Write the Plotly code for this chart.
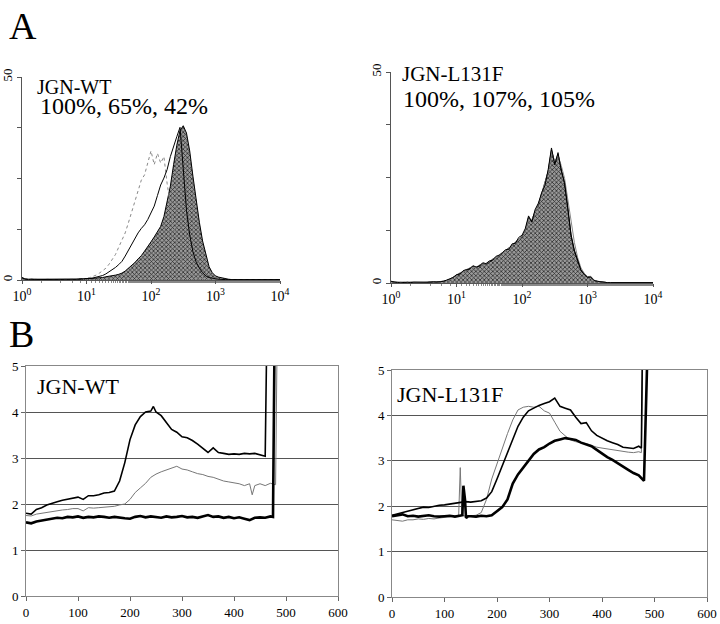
import plotly.graph_objects as go

# ---------------- Panel A: flow cytometry histograms ----------------
# bin centres in log10 units (channel positions, 0 .. 4 decades)
LOG_BINS = [round(0.05 * i, 2) for i in range(81)]
HIST_X = [10 ** v for v in LOG_BINS]

WT_100 = [0.6, 0.3, 0.2, 0.2, 0.1, 0.2, 0.1, 0.2, 0.1, 0.2,
          0.1, 0.2, 0.1, 0.2, 0.2, 0.1, 0.2, 0.2, 0.3, 0.3,
          0.3, 0.4, 0.4, 0.5, 0.5, 0.6, 0.8, 0.9, 1.0, 1.2,
          1.4, 1.7, 2.2, 2.9, 3.5, 4.3, 5.2, 6.0, 7.1, 8.4,
          9.4, 10.6, 11.9, 13.2, 15.6, 19.2, 23.1, 28.4, 33.2, 36.8,
          38.0, 36.2, 31.8, 25.6, 19.8, 14.2, 9.6, 6.4, 3.3, 1.8,
          1.0, 0.7, 0.5, 0.3, 0.2, 0.1, 0.1, 0.1, 0.1, 0.1,
          0.1, 0.1, 0.1, 0.1, 0.1, 0.1, 0.1, 0.1, 0.1, 0.1, 0.1]
WT_65 = [0.5, 0.2, 0.1, 0.2, 0.1, 0.1, 0.2, 0.1, 0.1, 0.2,
         0.1, 0.1, 0.2, 0.1, 0.1, 0.2, 0.1, 0.1, 0.2, 0.3,
         0.3, 0.4, 0.5, 0.7, 0.9, 1.1, 1.5, 2.0, 2.4, 3.1,
         3.8, 4.6, 5.9, 7.4, 8.6, 10.1, 11.6, 12.7, 13.6, 14.9,
         16.4, 18.2, 20.8, 23.4, 25.1, 27.2, 30.4, 33.1, 35.3, 37.6,
         27.4, 17.2, 11.1, 7.0, 4.4, 2.9, 1.8, 1.0, 0.6, 0.4,
         0.3, 0.2, 0.1, 0.1, 0.1, 0.1, 0.1, 0.1, 0.1, 0.1,
         0.1, 0.1, 0.1, 0.1, 0.1, 0.1, 0.1, 0.1, 0.1, 0.1, 0.1]
WT_42 = [0.3, 0.2, 0.1, 0.1, 0.2, 0.1, 0.1, 0.1, 0.2, 0.1,
         0.1, 0.1, 0.2, 0.1, 0.1, 0.2, 0.2, 0.2, 0.3, 0.3,
         0.4, 0.6, 0.9, 1.2, 1.7, 2.2, 2.9, 3.9, 5.1, 6.3,
         8.1, 9.7, 11.6, 14.1, 16.7, 19.2, 21.8, 24.6, 25.9, 29.2,
         31.8, 28.4, 31.2, 28.8, 30.4, 23.8, 18.1, 13.2, 9.1, 6.0,
         4.1, 2.6, 1.6, 1.0, 0.6, 0.4, 0.3, 0.2, 0.1, 0.1,
         0.1, 0.1, 0.1, 0.1, 0.1, 0.1, 0.1, 0.1, 0.1, 0.1,
         0.1, 0.1, 0.1, 0.1, 0.1, 0.1, 0.1, 0.1, 0.1, 0.1, 0.1]

LF_100 = [0.4, 0.2, 0.2, 0.1, 0.2, 0.1, 0.2, 0.2, 0.1, 0.2,
          0.2, 0.1, 0.3, 0.2, 0.3, 0.3, 0.4, 0.6, 0.9, 1.4,
          1.9, 2.3, 2.7, 3.0, 3.5, 3.9, 3.6, 4.2, 4.6, 4.4,
          5.0, 5.6, 6.0, 6.4, 7.0, 7.6, 8.2, 9.0, 9.6, 10.4,
          11.0, 12.5, 15.5, 14.8, 17.0, 18.5, 21.0, 23.5, 26.5, 31.5,
          28.5, 30.5, 27.0, 23.5, 17.5, 11.0, 7.5, 5.0, 3.0, 2.0,
          1.3, 1.5, 0.6, 0.4, 0.3, 0.1, 0.1, 0.1, 0.1, 0.1,
          0.1, 0.1, 0.1, 0.1, 0.1, 0.1, 0.1, 0.1, 0.1, 0.1, 0.1]
LF_107 = [0.4, 0.2, 0.1, 0.2, 0.1, 0.2, 0.1, 0.2, 0.2, 0.1,
          0.2, 0.2, 0.2, 0.3, 0.2, 0.3, 0.4, 0.7, 1.0, 1.3,
          2.0, 2.1, 2.9, 3.2, 3.3, 4.1, 3.8, 4.0, 4.8, 4.6,
          5.2, 5.4, 6.3, 6.6, 7.2, 7.9, 8.0, 9.3, 9.4, 10.8,
          11.3, 12.9, 15.9, 14.4, 17.4, 18.9, 21.4, 23.1, 26.9, 32.0,
          28.0, 30.9, 26.6, 23.8, 17.8, 11.4, 7.8, 5.2, 3.1, 2.1,
          1.4, 1.4, 0.6, 0.4, 0.3, 0.1, 0.1, 0.1, 0.1, 0.1,
          0.1, 0.1, 0.1, 0.1, 0.1, 0.1, 0.1, 0.1, 0.1, 0.1, 0.1]
LF_105 = [0.3, 0.2, 0.2, 0.1, 0.1, 0.2, 0.1, 0.1, 0.2, 0.2,
          0.1, 0.2, 0.3, 0.2, 0.2, 0.3, 0.4, 0.6, 0.8, 1.3,
          1.8, 2.4, 2.6, 3.1, 3.6, 3.7, 3.7, 4.3, 4.5, 4.5,
          5.1, 5.7, 5.9, 6.5, 7.1, 7.5, 8.3, 8.9, 9.8, 10.3,
          11.2, 12.4, 15.2, 15.0, 16.8, 18.7, 20.8, 23.8, 26.2, 31.2,
          28.8, 30.2, 27.8, 24.8, 20.0, 14.8, 9.6, 6.0, 3.6, 2.3,
          1.5, 1.6, 0.7, 0.4, 0.3, 0.1, 0.1, 0.1, 0.1, 0.1,
          0.1, 0.1, 0.1, 0.1, 0.1, 0.1, 0.1, 0.1, 0.1, 0.1, 0.1]

HIST_TICKS = [1, 10, 100, 1000, 10000]
HIST_TICKTEXT = ["10<sup>0</sup>", "10<sup>1</sup>", "10<sup>2</sup>",
                 "10<sup>3</sup>", "10<sup>4</sup>"]
HIST_YTICKS = [0, 12.5, 25, 37.5, 50]
HIST_YTEXT = ["0", "", "", "", "50"]

# ---------------- Panel B: time courses ----------------
WT_THICK_X = [0, 10, 20, 30, 40, 50, 60, 70, 80, 90, 100, 110, 120, 130, 140, 150,
              160, 170, 180, 190, 200, 210, 220, 230, 240, 250, 260, 270, 280, 290,
              300, 310, 320, 330, 340, 350, 360, 370, 380, 390, 400, 410, 420, 430,
              440, 450, 460, 470, 475, 478]
WT_THICK_Y = [1.60, 1.58, 1.62, 1.64, 1.66, 1.68, 1.70, 1.69, 1.72, 1.71, 1.73, 1.70,
              1.72, 1.71, 1.73, 1.72, 1.70, 1.72, 1.70, 1.69, 1.68, 1.72, 1.74, 1.71,
              1.73, 1.72, 1.70, 1.73, 1.71, 1.72, 1.74, 1.71, 1.72, 1.70, 1.73, 1.76,
              1.72, 1.73, 1.70, 1.72, 1.69, 1.71, 1.68, 1.65, 1.70, 1.71, 1.70, 1.73,
              1.72, 5.6]
WT_MED_X = [0, 10, 20, 30, 40, 50, 60, 70, 80, 90, 100, 110, 120, 130, 140, 150, 160,
            170, 180, 190, 200, 210, 220, 230, 240, 245, 250, 260, 270, 280, 290, 300,
            310, 320, 330, 340, 350, 360, 370, 380, 390, 400, 410, 420, 430, 440, 450,
            460, 463]
WT_MED_Y = [1.80, 1.78, 1.88, 1.92, 1.98, 2.02, 2.05, 2.08, 2.10, 2.12, 2.15, 2.10,
            2.18, 2.18, 2.20, 2.24, 2.25, 2.28, 2.50, 2.90, 3.40, 3.72, 3.90, 4.00,
            4.02, 4.12, 4.00, 3.92, 3.78, 3.62, 3.56, 3.46, 3.44, 3.38, 3.30, 3.20,
            3.12, 3.22, 3.12, 3.10, 3.08, 3.09, 3.08, 3.10, 3.09, 3.10, 3.07, 3.04, 5.6]
WT_GRAY_X = [0, 10, 20, 30, 40, 50, 60, 70, 80, 90, 100, 110, 120, 130, 140, 150, 160,
             170, 180, 190, 200, 210, 220, 230, 240, 250, 260, 270, 280, 290, 300, 310,
             320, 330, 340, 350, 360, 370, 380, 390, 400, 410, 420, 430, 435, 440, 450,
             460, 470, 480, 483]
WT_GRAY_Y = [1.75, 1.74, 1.78, 1.80, 1.82, 1.84, 1.85, 1.87, 1.88, 1.90, 1.90, 1.85,
             1.92, 1.91, 1.92, 1.93, 1.94, 1.95, 1.98, 2.00, 2.10, 2.25, 2.35, 2.45,
             2.58, 2.65, 2.70, 2.74, 2.78, 2.82, 2.76, 2.74, 2.70, 2.66, 2.64, 2.60,
             2.58, 2.54, 2.50, 2.48, 2.46, 2.44, 2.40, 2.44, 2.20, 2.40, 2.44, 2.40,
             2.45, 2.42, 5.6]

LF_THICK_X = [0, 10, 20, 30, 40, 50, 60, 70, 80, 90, 100, 110, 120, 130, 134, 136, 139,
              141, 145, 150, 160, 170, 180, 190, 200, 210, 220, 230, 240, 250, 260, 270,
              280, 290, 300, 310, 320, 330, 340, 350, 360, 370, 380, 390, 400, 410, 420,
              430, 440, 450, 460, 470, 480, 487]
LF_THICK_Y = [1.78, 1.80, 1.82, 1.78, 1.79, 1.77, 1.78, 1.80, 1.78, 1.77, 1.78, 1.79,
              1.77, 1.78, 1.80, 2.45, 2.15, 1.74, 1.78, 1.78, 1.77, 1.79, 1.78, 1.80,
              1.88, 1.98, 2.15, 2.50, 2.70, 2.85, 3.00, 3.15, 3.25, 3.30, 3.38, 3.44,
              3.47, 3.50, 3.48, 3.46, 3.40, 3.36, 3.32, 3.24, 3.16, 3.08, 3.02, 2.94,
              2.86, 2.80, 2.73, 2.68, 2.56, 5.6]
LF_MED_X = [0, 10, 20, 30, 40, 50, 60, 70, 80, 90, 100, 110, 120, 130, 140, 150, 160,
            170, 180, 190, 200, 210, 220, 230, 240, 250, 260, 270, 280, 290, 300, 310,
            320, 330, 340, 350, 360, 370, 380, 390, 400, 410, 420, 430, 440, 450, 460,
            470, 475, 477]
LF_MED_Y = [1.80, 1.83, 1.86, 1.88, 1.92, 1.95, 1.98, 1.97, 2.00, 2.02, 2.03, 2.05,
            2.06, 2.08, 2.10, 2.09, 2.10, 2.12, 2.18, 2.32, 2.60, 2.90, 3.20, 3.50,
            3.76, 3.96, 4.10, 4.16, 4.22, 4.26, 4.30, 4.38, 4.20, 4.16, 4.12, 3.96,
            3.82, 3.84, 3.66, 3.56, 3.50, 3.44, 3.40, 3.36, 3.30, 3.28, 3.27, 3.32,
            3.28, 5.6]
LF_GRAY_X = [0, 10, 20, 30, 40, 50, 60, 70, 80, 90, 100, 110, 120, 127, 130, 133, 140,
             150, 160, 170, 180, 190, 200, 210, 220, 230, 240, 250, 260, 270, 280, 290,
             300, 310, 320, 330, 340, 350, 360, 370, 380, 390, 400, 410, 420, 430, 440,
             450, 460, 470, 475, 478]
LF_GRAY_Y = [1.70, 1.68, 1.67, 1.70, 1.70, 1.72, 1.71, 1.73, 1.72, 1.74, 1.75, 1.76,
             1.78, 1.80, 2.85, 1.80, 1.78, 1.79, 1.80, 1.86, 2.15, 2.60, 2.95, 3.25,
             3.60, 3.90, 4.12, 4.18, 4.20, 4.18, 4.20, 4.10, 4.05, 3.85, 3.65, 3.55,
             3.46, 3.42, 3.40, 3.38, 3.34, 3.30, 3.28, 3.26, 3.24, 3.22, 3.20, 3.19,
             3.18, 3.20, 3.18, 5.6]

W, H = 720, 624
FONT = "Liberation Serif"


def px(x):
    return x / W


def py(y):
    return 1 - y / H


fig = go.Figure()

FILL_PATTERN = dict(shape="x", fgcolor="#202020", bgcolor="#9a9a9a", size=3, solidity=0.4)

# ---- top-left histogram ----
fig.add_trace(go.Scatter(x=HIST_X, y=WT_100, mode="lines", fill="tozeroy",
                         line=dict(color="black", width=1),
                         fillcolor="#808080", fillpattern=FILL_PATTERN,
                         xaxis="x", yaxis="y", showlegend=False))
fig.add_trace(go.Scatter(x=HIST_X, y=WT_42, mode="lines",
                         line=dict(color="#888888", width=1, dash="dot"),
                         xaxis="x", yaxis="y", showlegend=False))
fig.add_trace(go.Scatter(x=HIST_X, y=WT_65, mode="lines",
                         line=dict(color="black", width=1),
                         xaxis="x", yaxis="y", showlegend=False))

# ---- top-right histogram ----
fig.add_trace(go.Scatter(x=HIST_X, y=LF_100, mode="lines", fill="tozeroy",
                         line=dict(color="black", width=1),
                         fillcolor="#808080", fillpattern=FILL_PATTERN,
                         xaxis="x2", yaxis="y2", showlegend=False))
fig.add_trace(go.Scatter(x=HIST_X, y=LF_105, mode="lines",
                         line=dict(color="#888888", width=1),
                         xaxis="x2", yaxis="y2", showlegend=False))
fig.add_trace(go.Scatter(x=HIST_X, y=LF_107, mode="lines",
                         line=dict(color="black", width=1),
                         xaxis="x2", yaxis="y2", showlegend=False))

# ---- bottom-left time course ----
fig.add_trace(go.Scatter(x=WT_GRAY_X, y=WT_GRAY_Y, mode="lines",
                         line=dict(color="#777777", width=1),
                         xaxis="x3", yaxis="y3", showlegend=False))
fig.add_trace(go.Scatter(x=WT_MED_X, y=WT_MED_Y, mode="lines",
                         line=dict(color="black", width=1.6),
                         xaxis="x3", yaxis="y3", showlegend=False))
fig.add_trace(go.Scatter(x=WT_THICK_X, y=WT_THICK_Y, mode="lines",
                         line=dict(color="black", width=2.6),
                         xaxis="x3", yaxis="y3", showlegend=False))

# ---- bottom-right time course ----
fig.add_trace(go.Scatter(x=LF_GRAY_X, y=LF_GRAY_Y, mode="lines",
                         line=dict(color="#777777", width=1),
                         xaxis="x4", yaxis="y4", showlegend=False))
fig.add_trace(go.Scatter(x=LF_MED_X, y=LF_MED_Y, mode="lines",
                         line=dict(color="black", width=1.6),
                         xaxis="x4", yaxis="y4", showlegend=False))
fig.add_trace(go.Scatter(x=LF_THICK_X, y=LF_THICK_Y, mode="lines",
                         line=dict(color="black", width=2.6),
                         xaxis="x4", yaxis="y4", showlegend=False))


def hist_x(domain, anchor):
    return dict(domain=domain, anchor=anchor, type="log", range=[0, 4],
                tickvals=HIST_TICKS, ticktext=HIST_TICKTEXT, ticks="outside",
                ticklen=3, tickcolor="#555", showline=True, linecolor="#555",
                linewidth=1, showgrid=False, zeroline=False, automargin=False,
                tickfont=dict(family=FONT, size=14, color="black"),
                minor=dict(ticks="outside", ticklen=2, tickcolor="#888"))


def hist_y(domain, anchor):
    return dict(domain=domain, anchor=anchor, range=[0, 50], tickvals=HIST_YTICKS,
                ticktext=HIST_YTEXT, tickangle=-90, ticks="outside", ticklen=4,
                tickcolor="#555", showline=True, linecolor="#555", linewidth=1,
                showgrid=False, zeroline=False, automargin=False,
                tickfont=dict(family=FONT, size=13, color="black"))


def line_x(domain, anchor):
    return dict(domain=domain, anchor=anchor, range=[0, 600], dtick=100,
                ticks="outside", ticklen=4, tickcolor="#666", showline=True,
                linecolor="#888", linewidth=1, mirror=True, showgrid=False,
                zeroline=False, automargin=False,
                tickfont=dict(family=FONT, size=13, color="black"))


def line_y(domain, anchor):
    return dict(domain=domain, anchor=anchor, range=[0, 5], dtick=1,
                ticks="outside", ticklen=4, tickcolor="#666", showline=True,
                linecolor="#888", linewidth=1, mirror=True, showgrid=True,
                gridcolor="#555", gridwidth=1, zeroline=False, automargin=False,
                tickfont=dict(family=FONT, size=13, color="black"))


fig.update_layout(
    template="none",
    width=W, height=H,
    margin=dict(l=0, r=0, t=0, b=0, pad=0, autoexpand=False),
    paper_bgcolor="white", plot_bgcolor="white",
    font=dict(family=FONT, color="black"),
    xaxis=hist_x([px(22), px(280)], "y"),
    yaxis=hist_y([py(280), py(77)], "x"),
    xaxis2=hist_x([px(391), px(653)], "y2"),
    yaxis2=hist_y([py(283), py(72)], "x2"),
    xaxis3=line_x([px(26), px(338)], "y3"),
    yaxis3=line_y([py(596), py(366)], "x3"),
    xaxis4=line_x([px(392), px(707)], "y4"),
    yaxis4=line_y([py(597), py(370)], "x4"),
)

annotations = [
    dict(text="A", x=px(7), y=py(26), size=38),
    dict(text="B", x=px(7), y=py(334), size=38),
    dict(text="JGN-WT", x=px(35), y=py(87), size=20),
    dict(text="100%, 65%, 42%", x=px(38), y=py(106), size=24),
    dict(text="JGN-L131F", x=px(400), y=py(74), size=21),
    dict(text="100%, 107%, 105%", x=px(401), y=py(99), size=24),
    dict(text="JGN-WT", x=px(35), y=py(386), size=22),
    dict(text="JGN-L131F", x=px(395), y=py(394), size=22),
]
for a in annotations:
    fig.add_annotation(text=a["text"], x=a["x"], y=a["y"], xref="paper", yref="paper",
                       xanchor="left", yanchor="middle", showarrow=False,
                       font=dict(family=FONT, size=a["size"], color="black"))

# remove the page's default body margin so the figure sits at the window's corner
fig.write_html("out.html", config={"displayModeBar": False},
               post_script="document.body.style.margin='0px';")
